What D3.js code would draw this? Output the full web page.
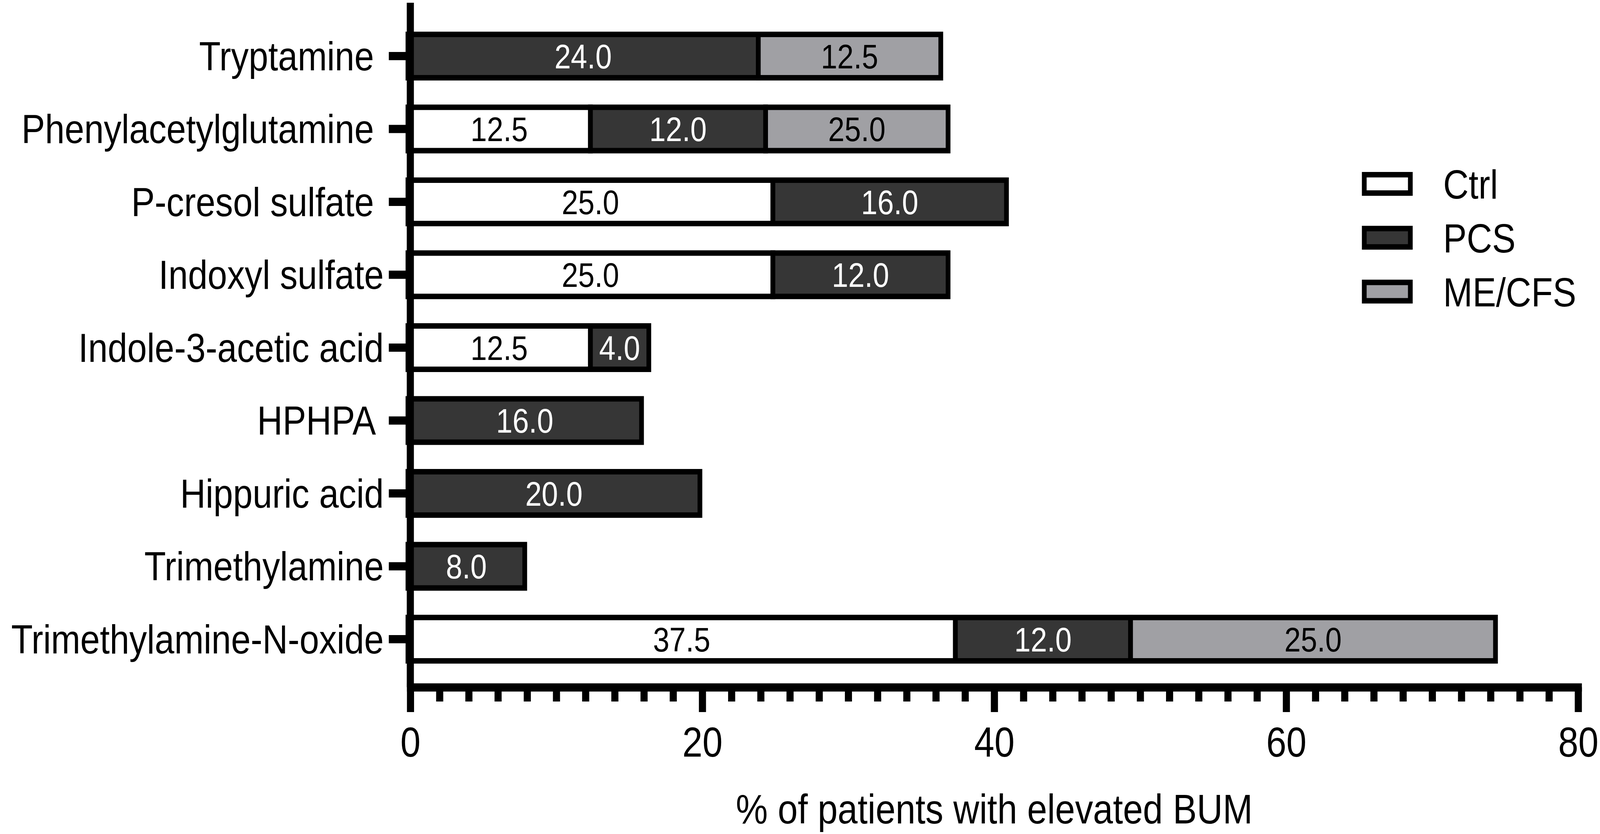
<!DOCTYPE html>
<html lang="en">
<head>
    <meta charset="utf-8">
    <title>Elevated BUM stacked bars</title>
    <script src="https://d3js.org/d3.v7.min.js"></script>
    <style>
        html, body { margin: 0; padding: 0; background: #fff; overflow: hidden; }
        #chart { display: block; width: 100vw; height: 100vh; background: #fff; }
        text { font-family: "Liberation Sans", Arial, sans-serif; fill: #000; }
        .cat text { white-space: pre; }
        .axis path, .axis line { stroke: #000; }
    </style>
</head>
<body>
    <svg id="chart"></svg>

    <script type="text/javascript">
        // data (labels keep their trailing spaces)
        var categories = ["Tryptamine ", "Phenylacetylglutamine ", "P-cresol sulfate ", "Indoxyl sulfate",
            "Indole-3-acetic acid", "HPHPA ", "Hippuric acid", "Trimethylamine", "Trimethylamine-N-oxide"];
        var groups = ["Ctrl", "PCS", "ME/CFS"];
        var ctrl   = [0, 12.5, 25, 25, 12.5, 0, 0, 0, 37.5];
        var pcs    = [24, 12, 16, 12, 4, 16, 20, 8, 12];
        // bar lengths as drawn
        var mecfs  = [12.5, 12.5, 0, 0, 0, 0, 0, 0, 25];
        // numbers printed inside the ME/CFS segments (the 2nd one says 25.0 on a 12.5-long bar)
        var mecfsPrinted = [12.5, 25, 0, 0, 0, 0, 0, 0, 25];
        var majorTicks = [0, 20, 40, 60, 80];
        var xTitle = "% of patients with elevated BUM";

        // drawing is laid out in the reference's 4724x2134 space and stretched to the window
        var width = 4724;
        var height = 2134;
        var sw = 14;          // bar outline
        var axisW = 21;       // axis line weight
        var fills = { "Ctrl": "#ffffff", "PCS": "#363636", "ME/CFS": "#a0a0a4" };
        var labelColor = { "Ctrl": "#000", "PCS": "#fff", "ME/CFS": "#000" };
        var printed = { "Ctrl": ctrl, "PCS": pcs, "ME/CFS": mecfsPrinted };

        var svg = d3.select("#chart")
            .attr("preserveAspectRatio", "none")
            .attr("viewBox", "0 0 " + width + " " + height);

        var axisTop = 7;
        var axisY = 1758.5;

        var x = d3.scaleLinear()
            .domain([0, 80])
            .range([1211.5, 4659.5]);

        var y = d3.scaleBand()
            .domain(categories)
            .range([88, 1691])
            .paddingInner(0.405)
            .paddingOuter(0);

        var rows = categories.map(function(c, i) {
            return { cat: c, idx: i, "Ctrl": ctrl[i], "PCS": pcs[i], "ME/CFS": mecfs[i] };
        });
        var stacked = d3.stack().keys(groups)(rows);

        // bars
        var layers = svg.append("g")
            .attr("transform", "translate(" + (-sw / 2) + ",0)")
            .selectAll("g")
            .data(stacked)
            .enter()
            .append("g");

        layers.selectAll("rect")
            .data(function(d) {
                return d.filter(function(s) { return s[1] - s[0] > 0; });
            })
            .enter()
            .append("rect")
            .attr("x", function(d) { return x(d[0]); })
            .attr("y", function(d) { return y(d.data.cat); })
            .attr("width", function(d) { return x(d[1]) - x(d[0]); })
            .attr("height", y.bandwidth())
            .attr("fill", function() { return fills[d3.select(this.parentNode).datum().key]; })
            .attr("stroke", "#000")
            .attr("stroke-width", sw);

        layers.selectAll("text")
            .data(function(d) {
                var key = d.key;
                return d.filter(function(s) { return s[1] - s[0] > 0; })
                    .map(function(s) { s.key = key; return s; });
            })
            .enter()
            .append("text")
            .attr("x", function(d) { return (x(d[0]) + x(d[1])) / 2; })
            .attr("y", function(d) { return y(d.data.cat) + y.bandwidth() / 2; })
            .attr("dy", "0.36em")
            .attr("text-anchor", "middle")
            .style("font-size", "87px")
            .style("fill", function(d) { return labelColor[d.key]; })
            .text(function(d) { return d3.format(".1f")(printed[d.key][d.data.idx]); });

        // y axis
        svg.append("line")
            .attr("x1", x(0)).attr("x2", x(0))
            .attr("y1", axisTop).attr("y2", axisY)
            .attr("stroke", "#000")
            .attr("stroke-width", axisW);

        var yAxis = svg.append("g")
            .attr("class", "axis cat")
            .attr("transform", "translate(" + x(0) + ",0)")
            .call(d3.axisLeft(y).tickSize(63.5).tickSizeOuter(0).tickPadding(15));
        yAxis.select(".domain").remove();
        yAxis.selectAll("line").attr("stroke-width", axisW);
        yAxis.selectAll("text")
            .attr("dy", "0.35em")
            .style("font-size", "104px");

        // x axis: minor ticks every 2, major every 20
        var minor = svg.append("g")
            .attr("class", "axis")
            .attr("transform", "translate(0," + axisY + ")")
            .call(d3.axisBottom(x)
                .tickValues(d3.range(2, 80, 2).filter(function(v) { return v % 20 !== 0; }))
                .tickSize(36.5).tickSizeOuter(0).tickFormat(""));
        minor.select(".domain").remove();
        minor.selectAll("line").attr("stroke-width", axisW);

        var xAxis = svg.append("g")
            .attr("class", "axis")
            .attr("transform", "translate(0," + axisY + ")")
            .call(d3.axisBottom(x).tickValues(majorTicks).tickSize(63.5).tickSizeOuter(0).tickPadding(38));
        xAxis.select(".domain")
            .attr("stroke-width", axisW)
            .attr("stroke-linecap", "square");
        xAxis.selectAll("line").attr("stroke-width", axisW);
        xAxis.selectAll("text").style("font-size", "107px");

        svg.append("text")
            .attr("x", (x(0) + x(80)) / 2)
            .attr("y", 2107)
            .attr("text-anchor", "middle")
            .style("font-size", "106px")
            .text(xTitle);

        // legend
        var legend = svg.append("g")
            .selectAll("g")
            .data(groups)
            .enter()
            .append("g")
            .attr("transform", function(d, i) { return "translate(4028," + (470.5 + i * 137.8) + ")"; });

        legend.append("rect")
            .attr("x", 0)
            .attr("y", -23.5)
            .attr("width", 136)
            .attr("height", 47)
            .attr("fill", function(d) { return fills[d]; })
            .attr("stroke", "#000")
            .attr("stroke-width", sw);

        legend.append("text")
            .attr("x", 233)
            .attr("dy", "0.36em")
            .style("font-size", "104px")
            .text(function(d) { return d; });
    </script>
</body>
</html>
